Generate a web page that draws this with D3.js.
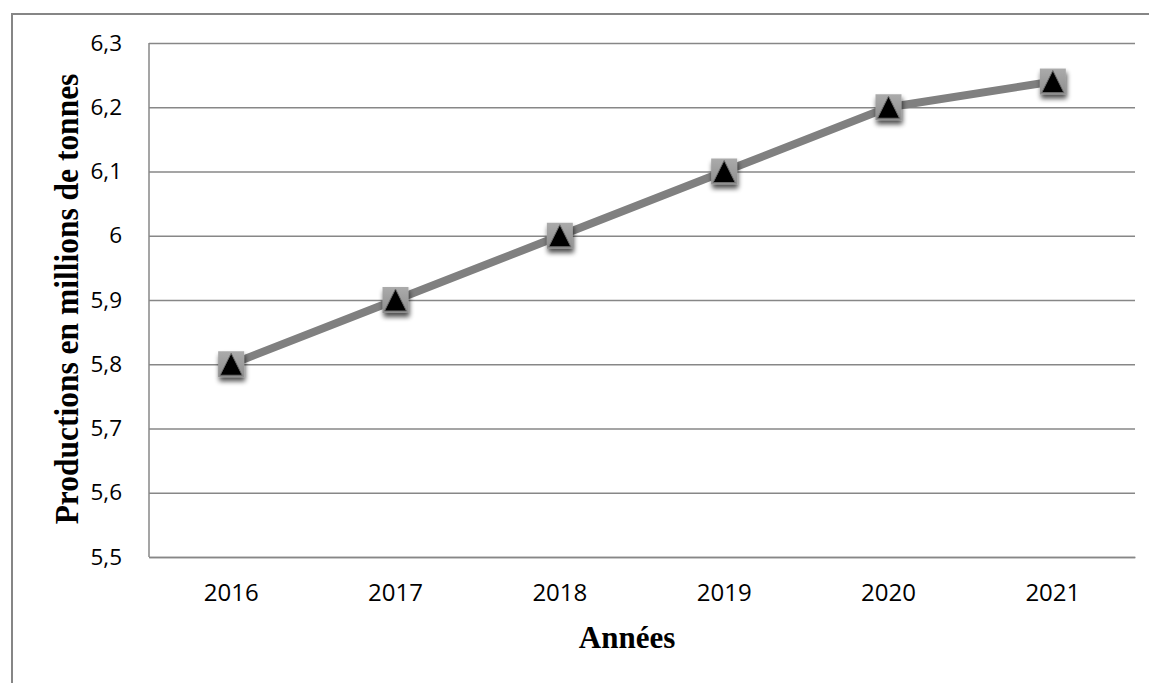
<!DOCTYPE html>
<html><head><meta charset="utf-8">
<script src="https://cdn.jsdelivr.net/npm/d3@7"></script>
<style>
html,body{margin:0;padding:0;background:#fff;}
svg{display:block;}
</style></head>
<body>
<svg id="chart" width="1149" height="683"></svg>
<script>
const years = ["2016","2017","2018","2019","2020","2021"];
const production = [5.8, 5.9, 6.0, 6.1, 6.2, 6.24];
const yTicks = [5.5, 5.6, 5.7, 5.8, 5.9, 6.0, 6.1, 6.2, 6.3];
const yTitle = "Productions en millions de tonnes";
const xTitle = "Années";

const svg = d3.select("#chart");
const W = 1149, H = 683;
const m = {left:149, top:43, right:1135, bottom:557};

// outer frame (top and left visible)
svg.append("path").attr("d", `M12,${H} L12,14 L${W},14`)
  .attr("fill","none").attr("stroke","#868686").attr("stroke-width",2);

const x = d3.scaleBand().domain(years).range([m.left, m.right]);
const y = d3.scaleLinear().domain([5.5, 6.3]).range([m.bottom, m.top]);
const fmt = d => d3.format(".1f")(d).replace(".", ",").replace(/,0$/, "");

const defs = svg.append("defs");
const f = defs.append("filter").attr("id","sh").attr("x","-50%").attr("y","-50%").attr("width","200%").attr("height","200%");
f.append("feGaussianBlur").attr("in","SourceAlpha").attr("stdDeviation",2.5).attr("result","b");
f.append("feOffset").attr("in","b").attr("dx",1).attr("dy",4).attr("result","o");
f.append("feComponentTransfer").attr("in","o").attr("result","o2")
  .append("feFuncA").attr("type","linear").attr("slope",0.7);
const mg = f.append("feMerge");
mg.append("feMergeNode").attr("in","o2");
mg.append("feMergeNode").attr("in","SourceGraphic");

const lg = defs.append("linearGradient").attr("id","sq").attr("x1",0).attr("y1",0).attr("x2",0).attr("y2",1);
lg.append("stop").attr("offset",0).attr("stop-color","#ababab");
lg.append("stop").attr("offset",1).attr("stop-color","#8e8e8e");

// gridlines
const yAxis = d3.axisLeft(y).tickValues(yTicks).tickSize(-(m.right - m.left)).tickFormat(fmt).tickPadding(27);
const gy = svg.append("g").attr("transform",`translate(${m.left},0)`).call(yAxis);
gy.select(".domain").remove();
gy.selectAll(".tick line").attr("stroke","#878787").attr("stroke-width",1.5);
gy.selectAll(".tick text").attr("font-family","'Open Sans', sans-serif").attr("font-size",22.5).attr("fill","#000");

// left axis line
svg.append("line").attr("x1",m.left).attr("x2",m.left).attr("y1",m.top).attr("y2",m.bottom)
  .attr("stroke","#878787").attr("stroke-width",1.5);

const xAxis = d3.axisBottom(x).tickSize(0).tickPadding(27);
const gx = svg.append("g").attr("transform",`translate(0,${m.bottom})`).call(xAxis);
gx.select(".domain").attr("stroke","#878787").attr("stroke-width",1.5);
gx.selectAll(".tick text").attr("font-family","'Open Sans', sans-serif").attr("font-size",24).attr("fill","#000");

// line
const line = d3.line().x((d,i)=>x(years[i]) + x.bandwidth()/2).y(d=>y(d));
svg.append("path").datum(production).attr("d", line)
  .attr("fill","none").attr("stroke","#808080").attr("stroke-width",8).attr("stroke-linejoin","round");

// markers
const mk = svg.append("g").selectAll("g").data(production).join("g")
  .attr("transform",(d,i)=>`translate(${x(years[i]) + x.bandwidth()/2},${y(d)})`)
  .attr("filter","url(#sh)");
mk.append("rect").attr("x",-13).attr("y",-13).attr("width",26).attr("height",26).attr("fill","url(#sq)");
mk.append("path").attr("d","M0,-11 L11,11 L-11,11 Z").attr("fill","#000").attr("stroke","#6e6e6e").attr("stroke-width",1);

// titles
svg.append("text").attr("x",627).attr("y",648).attr("text-anchor","middle")
  .attr("font-family","'Liberation Serif', 'Times New Roman', serif").attr("font-weight","bold").attr("font-size",31)
  .text(xTitle);
svg.append("text").attr("transform","translate(78,299) rotate(-90) scale(1,1.08)").attr("text-anchor","middle")
  .attr("font-family","'Liberation Serif', 'Times New Roman', serif").attr("font-weight","bold").attr("font-size",31.5)
  .text(yTitle);
</script>
</body></html>
